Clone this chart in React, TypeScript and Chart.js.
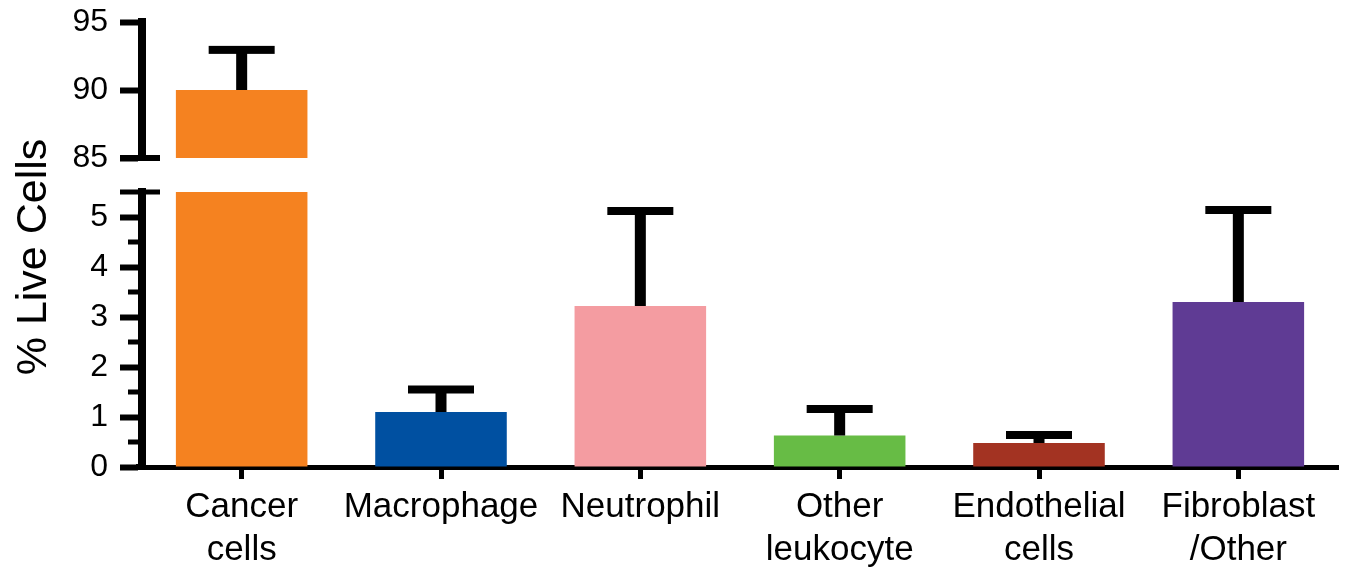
import React, { useEffect, useRef } from 'react';
import { Chart, registerables } from 'chart.js';

Chart.register(...registerables);

const CATEGORIES: string[][] = [
  ['Cancer', 'cells'],
  ['Macrophage'],
  ['Neutrophil'],
  ['Other', 'leukocyte'],
  ['Endothelial', 'cells'],
  ['Fibroblast', '/Other'],
];
const MEANS = [90, 1.1, 3.22, 0.63, 0.48, 3.3];
const ERRORS = [2.95, 0.45, 1.9, 0.53, 0.16, 1.84];
const COLORS = ['#F58220', '#0050A1', '#F49CA1', '#67BC45', '#A33322', '#5F3B94'];
const UPPER_TICKS = [85, 90, 95];
const LOWER_TICKS = [0, 1, 2, 3, 4, 5];
const LOWER_MINOR_TICKS = [0.5, 1.5, 2.5, 3.5, 4.5];
const UPPER_RANGE = [85, 95];
const LOWER_RANGE = [0, 5.5];
const Y_TITLE = '% Live Cells';

const W = 1347;
const H = 572;
const FONT = "'Liberation Sans', Arial, Helvetica, sans-serif";
const AXIS_LEFT = 142;
const RIGHT_PAD = 9;

const errorBarPlugin = {
  id: 'errorBars',
  afterDatasetsDraw(chart: any) {
    const { ctx, chartArea } = chart;
    const meta = chart.getDatasetMeta(0);
    const ys = chart.scales.y;
    ctx.save();
    ctx.beginPath();
    ctx.rect(chartArea.left, chartArea.top - 8, chartArea.right - chartArea.left, chartArea.bottom - chartArea.top + 8);
    ctx.clip();
    ctx.fillStyle = '#000';
    meta.data.forEach((bar: any, i: number) => {
      const x = bar.x;
      const y0 = ys.getPixelForValue(MEANS[i]);
      const y1 = ys.getPixelForValue(MEANS[i] + ERRORS[i]);
      ctx.fillRect(x - 5.5, y1, 11, y0 - y1);
      ctx.fillRect(x - 33, y1 - 4, 66, 8);
    });
    ctx.restore();
  },
};

const makeAxisDecor = (kind: 'upper' | 'lower') => ({
  id: 'axisDecor' + kind,
  afterDraw(chart: any) {
    const { ctx, chartArea } = chart;
    const ys = chart.scales.y;
    ctx.save();
    ctx.fillStyle = '#000';
    if (kind === 'upper') {
      const y = ys.getPixelForValue(UPPER_RANGE[0]);
      ctx.fillRect(120, y - 3, 40, 6);
    } else {
      ctx.fillRect(120, chartArea.top - 2.5, 40, 5);
      LOWER_MINOR_TICKS.forEach((v) => {
        const y = ys.getPixelForValue(v);
        ctx.fillRect(128, y - 2.5, 12, 5);
      });
      ctx.fillRect(136, chartArea.bottom - 3, 10, 6);
      ctx.save();
      ctx.translate(34, 257);
      ctx.rotate(-Math.PI / 2);
      ctx.font = `43px ${FONT}`;
      ctx.textAlign = 'center';
      ctx.textBaseline = 'middle';
      ctx.fillText(Y_TITLE, 0, 0);
      ctx.restore();
    }
    ctx.restore();
  },
});

function yScale(range: number[], ticks: number[]) {
  return {
    min: range[0],
    max: range[1],
    afterFit: (s: any) => {
      s.width = AXIS_LEFT;
      s.paddingTop = 0;
      s.paddingBottom = 0;
    },
    afterBuildTicks: (s: any) => {
      s.ticks = ticks.map((v) => ({ value: v }));
    },
    border: { display: true, width: 8, color: '#000' },
    grid: {
      display: true,
      drawOnChartArea: false,
      drawTicks: true,
      tickLength: 22,
      tickWidth: 6,
      tickColor: '#000',
    },
    ticks: {
      color: '#000',
      padding: 12,
      font: { family: FONT, size: 32 },
    },
  };
}

function makeDataset() {
  return {
    data: MEANS,
    backgroundColor: COLORS,
    borderWidth: 0,
    barPercentage: 0.66,
    categoryPercentage: 1,
    clip: 0,
  };
}

export default function App() {
  const upperRef = useRef<HTMLCanvasElement>(null);
  const lowerRef = useRef<HTMLCanvasElement>(null);

  useEffect(() => {
    const upper = new Chart(upperRef.current!, {
      type: 'bar',
      data: { labels: CATEGORIES, datasets: [makeDataset() as any] },
      options: {
        responsive: false,
        animation: false,
        layout: { padding: { top: 22, bottom: H - 158, left: 0, right: RIGHT_PAD } },
        plugins: { legend: { display: false }, tooltip: { enabled: false } },
        scales: {
          x: { display: false, offset: true },
          y: yScale(UPPER_RANGE, UPPER_TICKS) as any,
        },
      },
      plugins: [errorBarPlugin, makeAxisDecor('upper')],
    });
    const lower = new Chart(lowerRef.current!, {
      type: 'bar',
      data: { labels: CATEGORIES, datasets: [makeDataset() as any] },
      options: {
        responsive: false,
        animation: false,
        layout: { padding: { top: 192, bottom: 0, left: 0, right: RIGHT_PAD } },
        plugins: { legend: { display: false }, tooltip: { enabled: false } },
        scales: {
          x: {
            offset: true,
            afterFit: (s: any) => {
              s.height = H - 467;
            },
            border: { display: true, width: 5, color: '#000' },
            grid: {
              display: true,
              offset: false,
              drawOnChartArea: false,
              drawTicks: true,
              tickLength: 12,
              tickWidth: 5,
              tickColor: '#000',
            },
            ticks: {
              color: '#000',
              padding: 6,
              maxRotation: 0,
              autoSkip: false,
              font: { family: FONT, size: 35, lineHeight: 1.25 },
            },
          },
          y: yScale(LOWER_RANGE, LOWER_TICKS) as any,
        },
      },
      plugins: [errorBarPlugin, makeAxisDecor('lower')],
    });
    return () => {
      upper.destroy();
      lower.destroy();
    };
  }, []);

  return (
    <div style={{ position: 'fixed', left: 0, top: 0, width: W, height: H, background: '#fff' }}>
      <canvas ref={lowerRef} width={W} height={H} style={{ position: 'absolute', left: 0, top: 0 }} />
      <canvas ref={upperRef} width={W} height={H} style={{ position: 'absolute', left: 0, top: 0 }} />
    </div>
  );
}
